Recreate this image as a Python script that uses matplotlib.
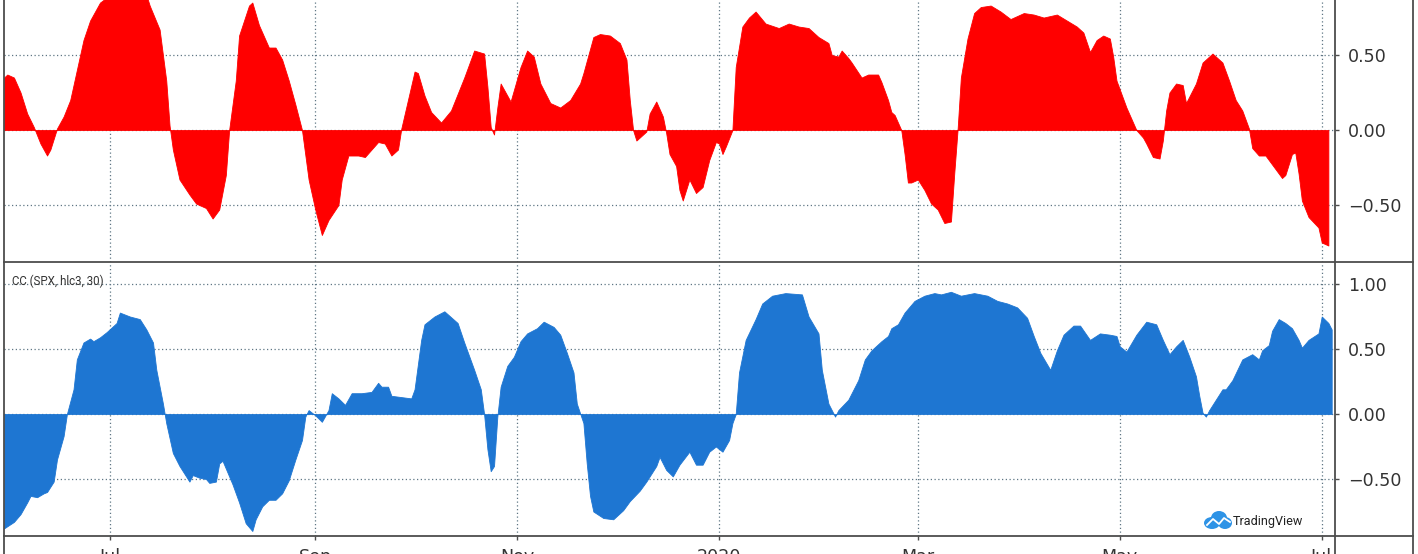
import matplotlib
matplotlib.use("Agg")
import matplotlib.pyplot as plt
import pandas as pd
from matplotlib.lines import Line2D
from matplotlib.patches import Ellipse

# ---------------- data ----------------
top_dates = [
    "2019-05-30", "2019-05-31", "2019-06-02", "2019-06-04", "2019-06-06", "2019-06-08",
    "2019-06-10", "2019-06-12", "2019-06-13", "2019-06-15", "2019-06-17", "2019-06-19",
    "2019-06-21", "2019-06-23", "2019-06-25", "2019-06-28", "2019-07-01", "2019-07-04",
    "2019-07-07", "2019-07-10", "2019-07-12", "2019-07-13", "2019-07-16", "2019-07-18",
    "2019-07-19", "2019-07-20", "2019-07-22", "2019-07-25", "2019-07-27", "2019-07-30",
    "2019-08-01", "2019-08-03", "2019-08-05", "2019-08-06", "2019-08-08", "2019-08-09",
    "2019-08-12", "2019-08-13", "2019-08-15", "2019-08-17", "2019-08-18", "2019-08-20",
    "2019-08-22", "2019-08-24", "2019-08-26", "2019-08-28", "2019-08-30", "2019-09-01",
    "2019-09-03", "2019-09-05", "2019-09-08", "2019-09-09", "2019-09-11", "2019-09-14",
    "2019-09-16", "2019-09-18", "2019-09-20", "2019-09-22", "2019-09-24", "2019-09-26",
    "2019-09-27", "2019-09-29", "2019-10-01", "2019-10-02", "2019-10-04", "2019-10-06",
    "2019-10-09", "2019-10-12", "2019-10-16", "2019-10-19", "2019-10-22", "2019-10-23",
    "2019-10-24", "2019-10-25", "2019-10-26", "2019-10-27", "2019-10-28", "2019-10-30",
    "2019-11-02", "2019-11-04", "2019-11-06", "2019-11-08", "2019-11-11", "2019-11-14",
    "2019-11-17", "2019-11-20", "2019-11-21", "2019-11-24", "2019-11-26", "2019-11-29",
    "2019-12-02", "2019-12-04", "2019-12-05", "2019-12-06", "2019-12-07", "2019-12-10",
    "2019-12-11", "2019-12-13", "2019-12-15", "2019-12-16", "2019-12-17", "2019-12-19",
    "2019-12-20", "2019-12-21", "2019-12-22", "2019-12-23", "2019-12-25", "2019-12-27",
    "2019-12-29", "2019-12-31", "2020-01-01", "2020-01-02", "2020-01-03", "2020-01-05",
    "2020-01-06", "2020-01-08", "2020-01-10", "2020-01-12", "2020-01-15", "2020-01-19",
    "2020-01-22", "2020-01-25", "2020-01-28", "2020-01-31", "2020-02-03", "2020-02-04",
    "2020-02-06", "2020-02-07", "2020-02-09", "2020-02-10", "2020-02-13", "2020-02-15",
    "2020-02-18", "2020-02-19", "2020-02-21", "2020-02-22", "2020-02-23", "2020-02-25",
    "2020-02-26", "2020-02-27", "2020-02-28", "2020-03-01", "2020-03-03", "2020-03-05",
    "2020-03-07", "2020-03-09", "2020-03-11", "2020-03-12", "2020-03-13", "2020-03-14",
    "2020-03-16", "2020-03-18", "2020-03-20", "2020-03-23", "2020-03-26", "2020-03-29",
    "2020-04-02", "2020-04-05", "2020-04-08", "2020-04-12", "2020-04-15", "2020-04-18",
    "2020-04-20", "2020-04-22", "2020-04-24", "2020-04-26", "2020-04-28", "2020-04-29",
    "2020-04-30", "2020-05-03", "2020-05-06", "2020-05-08", "2020-05-09", "2020-05-11",
    "2020-05-13", "2020-05-14", "2020-05-15", "2020-05-16", "2020-05-18", "2020-05-20",
    "2020-05-21", "2020-05-24", "2020-05-26", "2020-05-29", "2020-05-31", "2020-06-01",
    "2020-06-03", "2020-06-05", "2020-06-07", "2020-06-09", "2020-06-10", "2020-06-12",
    "2020-06-14", "2020-06-16", "2020-06-19", "2020-06-20", "2020-06-22", "2020-06-23",
    "2020-06-24", "2020-06-25", "2020-06-27", "2020-06-30", "2020-07-01", "2020-07-03",
]
top_values = [
    0.35, 0.37, 0.35, 0.25, 0.11, 0.02,
    -0.09, -0.17, -0.13, 0.01, 0.09, 0.20,
    0.40, 0.60, 0.73, 0.85, 0.90, 0.92,
    0.93, 0.92, 0.90, 0.83, 0.67, 0.33,
    0.03, -0.13, -0.33, -0.43, -0.49, -0.52,
    -0.59, -0.53, -0.30, 0.00, 0.33, 0.63,
    0.83, 0.85, 0.70, 0.60, 0.55, 0.55,
    0.47, 0.33, 0.17, 0.00, -0.33, -0.53,
    -0.70, -0.60, -0.50, -0.33, -0.17, -0.17,
    -0.18, -0.13, -0.08, -0.09, -0.17, -0.13,
    0.01, 0.20, 0.39, 0.38, 0.23, 0.12,
    0.05, 0.13, 0.35, 0.53, 0.51, 0.29,
    0.02, -0.03, 0.15, 0.31, 0.27, 0.19,
    0.42, 0.53, 0.49, 0.31, 0.18, 0.15,
    0.20, 0.31, 0.38, 0.62, 0.64, 0.63,
    0.58, 0.47, 0.20, 0.00, -0.07, -0.01,
    0.11, 0.19, 0.09, -0.02, -0.16, -0.24,
    -0.40, -0.47, -0.40, -0.33, -0.42, -0.38,
    -0.20, -0.08, -0.09, -0.16, -0.11, 0.00,
    0.42, 0.69, 0.75, 0.79, 0.71, 0.68,
    0.71, 0.69, 0.68, 0.62, 0.58, 0.50,
    0.49, 0.53, 0.48, 0.45, 0.35, 0.37,
    0.37, 0.32, 0.20, 0.12, 0.10, 0.00,
    -0.16, -0.35, -0.35, -0.33, -0.40, -0.49,
    -0.53, -0.62, -0.61, -0.29, 0.00, 0.35,
    0.61, 0.78, 0.82, 0.83, 0.79, 0.74,
    0.78, 0.77, 0.75, 0.77, 0.73, 0.69,
    0.65, 0.52, 0.60, 0.63, 0.61, 0.49,
    0.33, 0.15, 0.00, -0.05, -0.09, -0.18,
    -0.19, -0.07, 0.13, 0.25, 0.31, 0.30,
    0.18, 0.31, 0.45, 0.51, 0.47, 0.45,
    0.33, 0.20, 0.13, 0.01, -0.12, -0.17,
    -0.17, -0.23, -0.32, -0.30, -0.16, -0.15,
    -0.29, -0.47, -0.58, -0.65, -0.75, -0.77,
]

cc_dates = [
    "2019-05-30", "2019-06-02", "2019-06-04", "2019-06-06", "2019-06-07", "2019-06-09",
    "2019-06-11", "2019-06-12", "2019-06-14", "2019-06-15", "2019-06-17", "2019-06-18",
    "2019-06-20", "2019-06-21", "2019-06-23", "2019-06-25", "2019-06-26", "2019-06-28",
    "2019-06-30", "2019-07-03", "2019-07-04", "2019-07-07", "2019-07-10", "2019-07-12",
    "2019-07-14", "2019-07-15", "2019-07-17", "2019-07-18", "2019-07-20", "2019-07-22",
    "2019-07-24", "2019-07-25", "2019-07-26", "2019-07-28", "2019-07-30", "2019-07-31",
    "2019-08-02", "2019-08-03", "2019-08-04", "2019-08-05", "2019-08-07", "2019-08-09",
    "2019-08-11", "2019-08-13", "2019-08-14", "2019-08-16", "2019-08-18", "2019-08-20",
    "2019-08-22", "2019-08-24", "2019-08-26", "2019-08-28", "2019-08-29", "2019-08-30",
    "2019-09-01", "2019-09-03", "2019-09-05", "2019-09-06", "2019-09-08", "2019-09-10",
    "2019-09-12", "2019-09-15", "2019-09-18", "2019-09-20", "2019-09-21", "2019-09-23",
    "2019-09-24", "2019-09-27", "2019-09-30", "2019-10-01", "2019-10-03", "2019-10-04",
    "2019-10-07", "2019-10-10", "2019-10-14", "2019-10-16", "2019-10-19", "2019-10-21",
    "2019-10-22", "2019-10-23", "2019-10-24", "2019-10-25", "2019-10-26", "2019-10-27",
    "2019-10-29", "2019-10-31", "2019-11-02", "2019-11-04", "2019-11-07", "2019-11-09",
    "2019-11-12", "2019-11-14", "2019-11-16", "2019-11-18", "2019-11-19", "2019-11-21",
    "2019-11-22", "2019-11-23", "2019-11-24", "2019-11-27", "2019-11-30", "2019-12-03",
    "2019-12-05", "2019-12-08", "2019-12-10", "2019-12-13", "2019-12-14", "2019-12-16",
    "2019-12-18", "2019-12-20", "2019-12-23", "2019-12-25", "2019-12-27", "2019-12-29",
    "2019-12-31", "2020-01-02", "2020-01-04", "2020-01-05", "2020-01-06", "2020-01-07",
    "2020-01-09", "2020-01-12", "2020-01-14", "2020-01-17", "2020-01-21", "2020-01-26",
    "2020-01-28", "2020-01-31", "2020-02-01", "2020-02-03", "2020-02-05", "2020-02-06",
    "2020-02-09", "2020-02-12", "2020-02-14", "2020-02-16", "2020-02-19", "2020-02-21",
    "2020-02-22", "2020-02-24", "2020-02-26", "2020-02-29", "2020-03-03", "2020-03-06",
    "2020-03-08", "2020-03-11", "2020-03-14", "2020-03-18", "2020-03-22", "2020-03-25",
    "2020-03-28", "2020-03-31", "2020-04-03", "2020-04-05", "2020-04-07", "2020-04-10",
    "2020-04-12", "2020-04-14", "2020-04-17", "2020-04-19", "2020-04-22", "2020-04-25",
    "2020-04-28", "2020-04-30", "2020-05-01", "2020-05-03", "2020-05-06", "2020-05-09",
    "2020-05-12", "2020-05-14", "2020-05-16", "2020-05-18", "2020-05-20", "2020-05-22",
    "2020-05-24", "2020-05-25", "2020-05-26", "2020-05-27", "2020-05-28", "2020-05-30",
    "2020-06-01", "2020-06-02", "2020-06-04", "2020-06-07", "2020-06-10", "2020-06-12",
    "2020-06-13", "2020-06-15", "2020-06-16", "2020-06-18", "2020-06-20", "2020-06-22",
    "2020-06-24", "2020-06-25", "2020-06-27", "2020-06-30", "2020-07-01", "2020-07-03",
    "2020-07-04",
]
cc_values = [
    -0.88, -0.83, -0.77, -0.68, -0.63, -0.64,
    -0.61, -0.60, -0.52, -0.35, -0.17, 0.00,
    0.19, 0.42, 0.55, 0.58, 0.56, 0.59,
    0.63, 0.70, 0.78, 0.75, 0.73, 0.65,
    0.55, 0.34, 0.08, -0.07, -0.30, -0.40,
    -0.48, -0.52, -0.47, -0.49, -0.50, -0.53,
    -0.52, -0.38, -0.36, -0.42, -0.54, -0.68,
    -0.84, -0.90, -0.81, -0.71, -0.66, -0.66,
    -0.61, -0.51, -0.35, -0.20, -0.02, 0.03,
    -0.01, -0.06, 0.03, 0.16, 0.12, 0.07,
    0.16, 0.16, 0.17, 0.24, 0.21, 0.21,
    0.14, 0.13, 0.12, 0.19, 0.57, 0.69,
    0.75, 0.79, 0.70, 0.55, 0.34, 0.19,
    0.00, -0.27, -0.44, -0.40, -0.02, 0.21,
    0.37, 0.44, 0.56, 0.62, 0.66, 0.71,
    0.67, 0.61, 0.47, 0.32, 0.08, -0.07,
    -0.38, -0.63, -0.75, -0.80, -0.81, -0.74,
    -0.67, -0.59, -0.52, -0.40, -0.33, -0.43,
    -0.48, -0.39, -0.29, -0.39, -0.39, -0.29,
    -0.25, -0.29, -0.20, -0.07, 0.00, 0.32,
    0.57, 0.73, 0.85, 0.91, 0.93, 0.92,
    0.75, 0.62, 0.34, 0.08, -0.02, 0.03,
    0.11, 0.26, 0.42, 0.49, 0.56, 0.60,
    0.66, 0.69, 0.78, 0.87, 0.91, 0.93,
    0.92, 0.94, 0.91, 0.93, 0.91, 0.87,
    0.85, 0.82, 0.74, 0.60, 0.47, 0.34,
    0.49, 0.61, 0.68, 0.68, 0.57, 0.62,
    0.61, 0.60, 0.52, 0.48, 0.61, 0.71,
    0.69, 0.57, 0.46, 0.52, 0.57, 0.44,
    0.29, 0.14, 0.01, -0.02, 0.03, 0.11,
    0.19, 0.19, 0.26, 0.42, 0.46, 0.42,
    0.49, 0.53, 0.64, 0.73, 0.70, 0.66,
    0.57, 0.51, 0.57, 0.62, 0.75, 0.70,
    0.65,
]

month_ticks = ["2019-07-01", "2019-09-01", "2019-11-01", "2020-01-01",
               "2020-03-01", "2020-05-01", "2020-07-01"]
month_labels = ["Jul", "Sep", "Nov", "2020", "Mar", "May", "Jul"]
top_yticks = [-0.5, 0.0, 0.5]
cc_yticks = [-0.5, 0.0, 0.5, 1.0]
indicator_label = "CC (SPX, hlc3, 30)"
x_range = ["2019-05-30", "2020-07-05"]

# ---------------- style ----------------
RED = "#FF0000"
BLUE = "#1E76D2"
BORDER = "#4d4d4d"
GRID = "#5f7684"
TXT = "#333333"
W, H = 1418, 554

fig = plt.figure(figsize=(W / 100, H / 100), dpi=100)
fig.patch.set_facecolor("white")

ax1 = fig.add_axes([4 / W, 1 - 262 / H, (1335 - 4) / W, 262 / H])
ax2 = fig.add_axes([4 / W, 1 - 536 / H, (1335 - 4) / W, (536 - 263) / H])

td = pd.to_datetime(top_dates)
cd = pd.to_datetime(cc_dates)
ticks = pd.to_datetime(month_ticks)
xl = pd.to_datetime(x_range)

ax1.fill_between(td, 0, top_values, color=RED, linewidth=0.6, edgecolor=RED, zorder=2)
ax2.fill_between(cd, 0, cc_values, color=BLUE, linewidth=0.6, edgecolor=BLUE, zorder=2)

ax1.set_ylim(-0.88, 0.867)
ax2.set_ylim(-0.9385, 1.1615)


def fmt(v):
    s = f"{abs(v):.2f}"
    return ("\u2212" + s) if v < 0 else s


for ax, yt in ((ax1, top_yticks), (ax2, cc_yticks)):
    ax.set_xlim(xl[0], xl[1])
    ax.set_axisbelow(True)
    ax.yaxis.tick_right()
    ax.set_yticks(yt)
    ax.set_yticklabels([fmt(v) for v in yt])
    ax.set_xticks(ticks)
    ax.grid(True, color=GRID, linestyle=(0, (1, 2)), linewidth=0.9)
    for s in ax.spines.values():
        s.set_color(BORDER)
        s.set_linewidth(1.3)
    ax.spines["top"].set_visible(False)
    ax.tick_params(axis="y", which="both", direction="out", length=3, width=1,
                   color=BORDER, pad=6.5, labelsize=12.6, labelcolor=TXT)
    for lab in ax.get_yticklabels():
        lab.set_fontfamily("DejaVu Sans")

ax1.tick_params(axis="x", length=0, labelbottom=False)
ax2.set_xticklabels(month_labels)
ax2.tick_params(axis="x", direction="out", length=3, width=1, color=BORDER,
                pad=5.5, labelsize=12.6, labelcolor=TXT)

fig.text(12 / W, 1 - 281 / H, indicator_label,
         fontsize=8.3, family="Roboto", color=TXT, va="center", ha="left")


def px_line(x0, y0, x1, y1):
    fig.add_artist(Line2D([x0 / W, x1 / W], [1 - y0 / H, 1 - y1 / H],
                          transform=fig.transFigure, color=BORDER, linewidth=1.3))


px_line(1413, 0, 1413, 554)
px_line(1335, 262, 1413, 262)
px_line(1335, 536, 1413, 536)
px_line(1335, 536, 1335, 554)
px_line(4, 536, 4, 554)

# TradingView watermark
LOGO = "#2E93E6"
for cx, cy, rx, ry in ((1212, 523, 8, 6), (1219, 518, 8, 7), (1225, 523, 7, 6)):
    fig.add_artist(Ellipse((cx / W, 1 - cy / H), 2 * rx / W, 2 * ry / H,
                           transform=fig.transFigure, color=LOGO, lw=0))
fig.add_artist(Line2D([1207 / W, 1213 / W, 1219 / W, 1224 / W, 1230 / W],
                      [1 - 525 / H, 1 - 519 / H, 1 - 524 / H, 1 - 518 / H, 1 - 522 / H],
                      transform=fig.transFigure, color="white", linewidth=1.3))
fig.text(1233 / W, 1 - 522 / H, "TradingView", fontsize=9.1, family="Roboto",
         color="#222222", va="center", ha="left")

fig.savefig("out.png", dpi=100, facecolor="white")
